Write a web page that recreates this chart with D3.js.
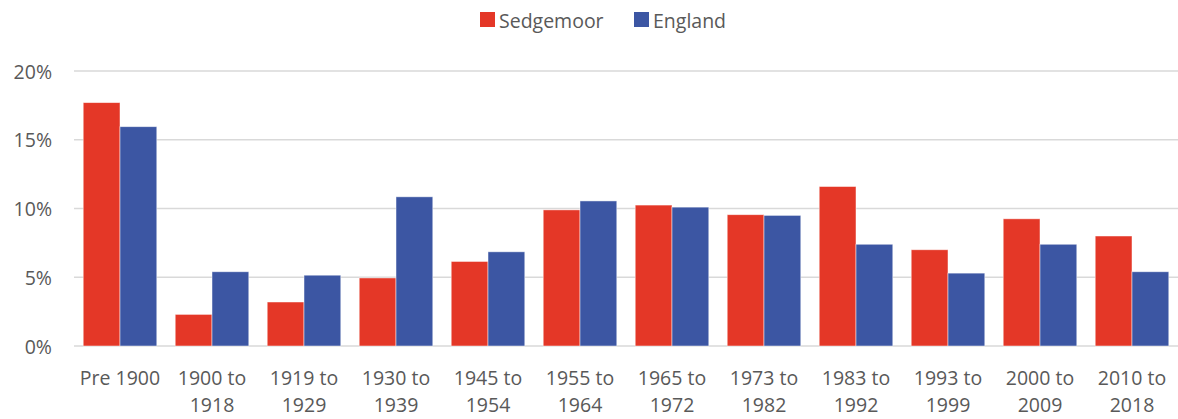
<!DOCTYPE html>
<html>
<head>
<meta charset="utf-8">
<script src="https://cdn.jsdelivr.net/npm/d3@7"></script>
<style>
  body { margin: 0; background: #fff; }
  text { font-family: "Open Sans", "Liberation Sans", sans-serif; fill: #595959; }
</style>
</head>
<body>
<div id="chart"></div>
<script>
// 数据
const categories = ['Pre 1900', '1900 to 1918', '1919 to 1929', '1930 to 1939', '1945 to 1954', '1955 to 1964',
  '1965 to 1972', '1973 to 1982', '1983 to 1992', '1993 to 1999', '2000 to 2009', '2010 to 2018'];
const sedgemoor = [17.7, 2.3, 3.2, 4.95, 6.15, 9.9, 10.25, 9.55, 11.6, 7.0, 9.25, 8.0];
const england = [15.95, 5.4, 5.15, 10.85, 6.85, 10.55, 10.1, 9.5, 7.4, 5.3, 7.4, 5.4];
const seriesNames = ['Sedgemoor', 'England'];
const seriesColors = ['#E43727', '#3C56A3'];
const yTicks = [0, 5, 10, 15, 20];

const width = 1178, height = 419;
const plotL = 74, plotR = 1178, plotT = 71, plotB = 346;   // 绘图区

const svg = d3.select('#chart').append('svg')
  .attr('width', width)
  .attr('height', height);

const x = d3.scaleBand().domain(categories).range([plotL, plotR]).paddingInner(0.2).paddingOuter(0.1);
const xs = d3.scaleBand().domain(seriesNames).range([0, x.bandwidth()]);
const y = d3.scaleLinear().domain([0, 20]).range([plotB, plotT]);

// 网格线
svg.append('g').selectAll('line')
  .data(yTicks)
  .enter().append('line')
  .attr('x1', plotL).attr('x2', plotR)
  .attr('y1', d => y(d)).attr('y2', d => y(d))
  .attr('stroke', '#d9d9d9')
  .attr('stroke-width', 1.5);

// y轴文字
svg.append('g').selectAll('text')
  .data(yTicks)
  .enter().append('text')
  .attr('x', 52)
  .attr('y', d => y(d))
  .attr('text-anchor', 'end')
  .attr('dominant-baseline', 'central')
  .style('font-size', '19.5px')
  .text(d => d + '%');

// 柱子
const rows = categories.map((c, i) => ({ cat: c, vals: [sedgemoor[i], england[i]] }));
const groups = svg.append('g').selectAll('g')
  .data(rows)
  .enter().append('g')
  .attr('transform', d => `translate(${x(d.cat)},0)`);

groups.selectAll('rect')
  .data(d => d.vals.map((v, k) => ({ name: seriesNames[k], v, k })))
  .enter().append('rect')
  .attr('x', d => xs(d.name))
  .attr('width', xs.bandwidth())
  .attr('y', d => y(d.v))
  .attr('height', d => y(0) - y(d.v))
  .attr('fill', d => seriesColors[d.k])
  .attr('stroke', 'rgba(255,255,255,0.6)')
  .attr('stroke-width', 0.8);

// x轴文字（两行）
const xl = svg.append('g').selectAll('text')
  .data(categories)
  .enter().append('text')
  .attr('x', d => x(d) + x.bandwidth() / 2)
  .attr('y', 385)
  .attr('text-anchor', 'middle')
  .style('font-size', '19.5px');

xl.each(function(d) {
  const parts = d.indexOf(' to ') > 0 ? [d.replace(/ to .*/, ' to'), d.replace(/.* to /, '')] : [d];
  const t = d3.select(this);
  parts.forEach((p, i) => {
    t.append('tspan')
      .attr('x', x(d) + x.bandwidth() / 2)
      .attr('dy', i === 0 ? 0 : 27)
      .text(p);
  });
});

// 图例
const legendX = [480, 634];
seriesNames.forEach((n, i) => {
  svg.append('rect')
    .attr('x', legendX[i]).attr('y', 12)
    .attr('width', 15).attr('height', 15)
    .attr('fill', seriesColors[i]);
  svg.append('text')
    .attr('x', legendX[i] + 19).attr('y', 20)
    .attr('dominant-baseline', 'central')
    .style('font-size', '19.5px')
    .text(n);
});
</script>
</body>
</html>
